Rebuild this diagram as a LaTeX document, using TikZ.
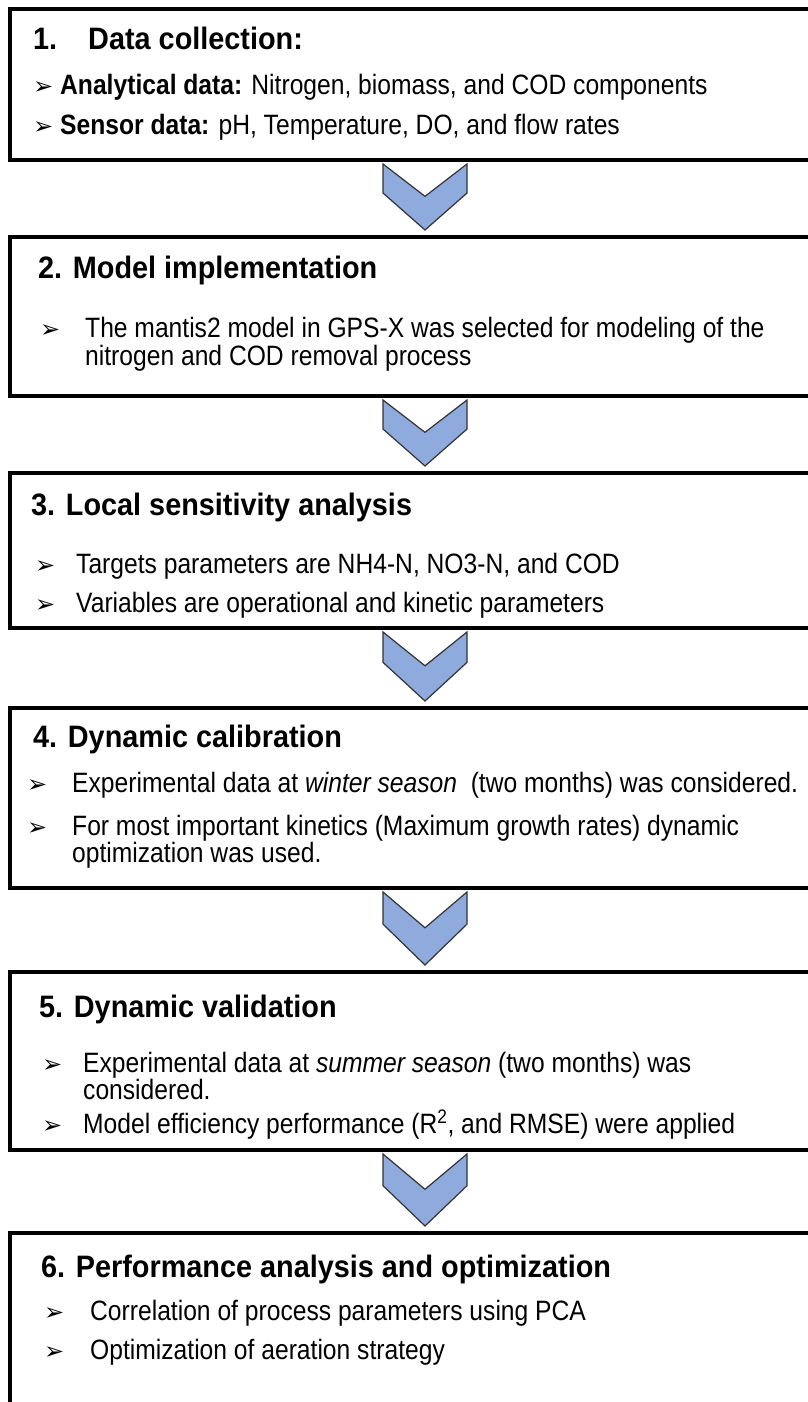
\documentclass[tikz,border=0pt]{standalone}
\usepackage{fontspec}
\setmainfont{Liberation Sans}[FakeStretch=0.88]
\newfontfamily\headfont{Liberation Sans}[FakeStretch=0.93]
\newfontfamily\symfont{DejaVu Sans}
\usetikzlibrary{calc}
\definecolor{chevblue}{RGB}{143,170,220}
\tikzset{
  stagebox/.style={draw=black, line width=4pt, minimum width=830, inner sep=0},
  headtxt/.style={anchor=base west, inner sep=0, font=\headfont\fontsize{31}{34}\selectfont\bfseries},
  bodytxt/.style={anchor=base west, inner sep=0, font=\fontsize{28}{30}\selectfont},
  bultxt/.style={anchor=base west, inner sep=0, font=\symfont\fontsize{24}{26}\selectfont},
  chev/.style={fill=chevblue, draw=black!80, line width=1.2pt, line join=miter}
}
\newcommand{\chevdown}[2]{%
  \draw[chev] let \p1=(#1.south), \p2=(#2.north), \n1={\y1-\y2-7pt} in
    (\x1-42pt,\y1-2pt) -- (\x1,\y1-2pt-0.49*\n1) -- (\x1+42pt,\y1-2pt)
    -- (\x1+42pt,\y1-2pt-0.44*\n1) -- (\x1,\y2+5pt) -- (\x1-42pt,\y1-2pt-0.44*\n1) -- cycle;}
\begin{document}
\begin{tikzpicture}[x=1pt, y=-1pt]
  \useasboundingbox (0,0) rectangle (808,1402);
  \fill[white] (0,0) rectangle (808,1402);
  \clip (0,0) rectangle (808,1402);

  \node[stagebox, minimum height=151] (box1) at (425,84.5) {};
  \node[stagebox, minimum height=159] (box2) at (425,316.5) {};
  \node[stagebox, minimum height=155] (box3) at (425,550.5) {};
  \node[stagebox, minimum height=180] (box4) at (425,798) {};
  \node[stagebox, minimum height=178] (box5) at (425,1061) {};
  \node[stagebox, minimum height=187] (box6) at (425,1326.5) {};

  \chevdown{box1}{box2}
  \chevdown{box2}{box3}
  \chevdown{box3}{box4}
  \chevdown{box4}{box5}
  \chevdown{box5}{box6}

  \node[headtxt] (head1) at (33,50) {1.\hspace{31pt}Data collection:};
  \node[bultxt] (bul1a) at (33,95) {➢};
  \node[bodytxt] (txt1a) at (60,95) {\textbf{Analytical data:} Nitrogen, biomass, and COD components};
  \node[bultxt] (bul1b) at (33,135) {➢};
  \node[bodytxt] (txt1b) at (60,135) {\textbf{Sensor data:} pH, Temperature, DO, and flow rates};

  \node[headtxt] (head2) at (38,278) {2. Model implementation};
  \node[bultxt] (bul2a) at (40,337) {➢};
  \node[bodytxt] (txt2a) at (85,337) {The mantis2 model in GPS-X was selected for modeling of the};
  \node[bodytxt] (txt2b) at (85,365) {nitrogen and COD removal process};

  \node[headtxt] (head3) at (31,515) {3. Local sensitivity analysis};
  \node[bultxt] (bul3a) at (35,573) {➢};
  \node[bodytxt] (txt3a) at (76,573) {Targets parameters are NH4-N, NO3-N, and COD};
  \node[bultxt] (bul3b) at (35,612) {➢};
  \node[bodytxt] (txt3b) at (76,612) {Variables are operational and kinetic parameters};

  \node[headtxt] (head4) at (33,747) {4. Dynamic calibration};
  \node[bultxt] (bul4a) at (27,792) {➢};
  \node[bodytxt] (txt4a) at (72,792) {Experimental data at \textit{winter season}\ \ (two months) was considered.};
  \node[bultxt] (bul4b) at (27,835) {➢};
  \node[bodytxt] (txt4b) at (72,835) {For most important kinetics (Maximum growth rates) dynamic};
  \node[bodytxt] (txt4c) at (72,862) {optimization was used.};

  \node[headtxt] (head5) at (39,1017) {5. Dynamic validation};
  \node[bultxt] (bul5a) at (42,1072) {➢};
  \node[bodytxt] (txt5a) at (83,1072) {Experimental data at \textit{summer season} (two months) was};
  \node[bodytxt] (txt5b) at (83,1099) {considered.};
  \node[bultxt] (bul5b) at (42,1133) {➢};
  \node[bodytxt] (txt5c) at (83,1133) {Model efficiency performance (R\textsuperscript{2}, and RMSE) were applied};

  \node[headtxt] (head6) at (41,1277) {6. Performance analysis and optimization};
  \node[bultxt] (bul6a) at (44,1320) {➢};
  \node[bodytxt] (txt6a) at (90,1320) {Correlation of process parameters using PCA};
  \node[bultxt] (bul6b) at (44,1359) {➢};
  \node[bodytxt] (txt6b) at (90,1359) {Optimization of aeration strategy};
\end{tikzpicture}
\end{document}
